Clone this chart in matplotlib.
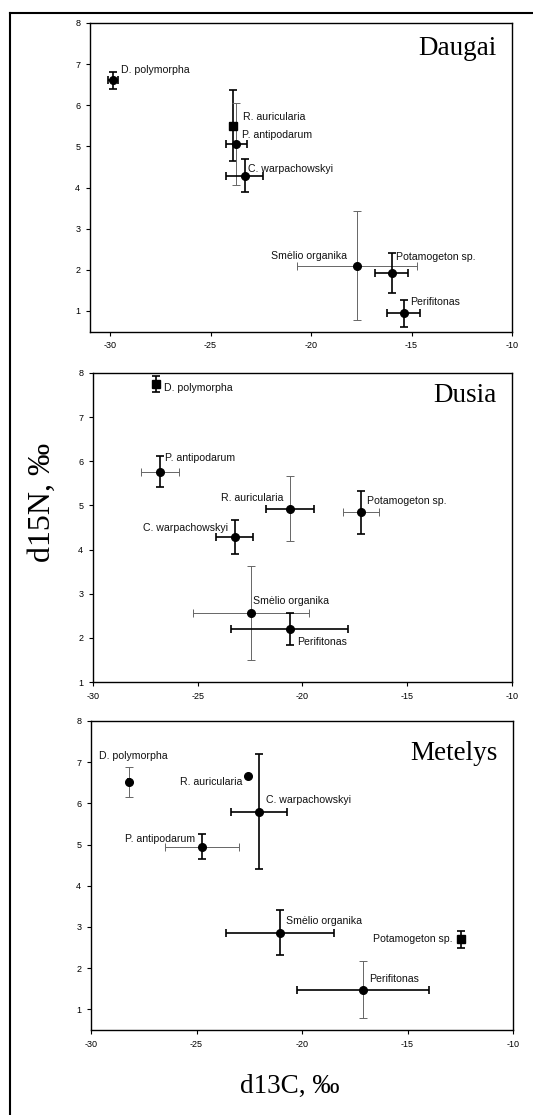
"""Stable isotope biplots (d13C vs d15N) for three lakes."""

import matplotlib
matplotlib.use("Agg")
import matplotlib.pyplot as plt
from matplotlib.lines import Line2D

plt.rcParams.update({
    "font.family": "Liberation Sans",
    "font.size": 7,
    "axes.unicode_minus": False,
    "figure.facecolor": "white",
    "axes.facecolor": "white",
})

# ---- data -------------------------------------------------------------
daugai_names = ["D. polymorpha", "R. auricularia", "P. antipodarum", "C. warpachowskyi",
                "Smėlio organika", "Potamogeton sp.", "Perifitonas"]
daugai_c = [-29.85, -23.88, -23.71, -23.3, -17.71, -15.99, -15.39]
daugai_n = [6.61, 5.5, 5.05, 4.29, 2.1, 1.93, 0.94]
daugai_cerr = [0.25, 0.15, 0.51, 0.91, 3.0, 0.83, 0.83]
daugai_nerr = [0.21, 0.86, 1.0, 0.4, 1.33, 0.49, 0.33]

dusia_names = ["D. polymorpha", "P. antipodarum", "R. auricularia", "Potamogeton sp.",
               "C. warpachowskyi", "Smėlio organika", "Perifitonas"]
dusia_c = [-26.99, -26.8, -20.6, -17.19, -23.24, -22.47, -20.6]
dusia_n = [7.75, 5.76, 4.93, 4.84, 4.28, 2.56, 2.2]
dusia_cerr = [0.1, 0.91, 1.15, 0.86, 0.89, 2.78, 2.79]
dusia_nerr = [0.18, 0.35, 0.74, 0.48, 0.39, 1.07, 0.36]

metelys_names = ["D. polymorpha", "R. auricularia", "C. warpachowskyi", "P. antipodarum",
                 "Smėlio organika", "Potamogeton sp.", "Perifitonas"]
metelys_c = [-28.18, -22.54, -22.04, -24.75, -21.04, -12.46, -17.09]
metelys_n = [6.52, 6.66, 5.8, 4.95, 2.86, 2.7, 1.48]
metelys_cerr = [0.05, 0.0, 1.34, 1.75, 2.55, 0.05, 3.13]
metelys_nerr = [0.36, 0.0, 1.4, 0.31, 0.55, 0.2, 0.7]

x_ticks = [-30, -25, -20, -15, -10]
y_ticks = [1, 2, 3, 4, 5, 6, 7, 8]

# ---- per-panel layout / styling ---------------------------------------
W, H = 533, 1115
panels = [
    {
        "title": "Daugai", "names": daugai_names, "c": daugai_c, "n": daugai_n,
        "cerr": daugai_cerr, "nerr": daugai_nerr,
        "box": (90, 23, 512, 331.5), "xlim": (-31, -10), "ylim": (0.5, 8),
        "title_y": 0.896,
        "markers": ["o", "s", "o", "o", "o", "o", "o"],
        "thin_x": [False, False, False, False, True, False, False],
        "thin_y": [False, False, True, False, True, False, False],
        "offsets": [(8, 10, "left"), (10, 9, "left"), (6, 9, "left"), (3, 7, "left"),
                    (-10, 10, "right"), (4, 16, "left"), (6, 11, "left")],
    },
    {
        "title": "Dusia", "names": dusia_names, "c": dusia_c, "n": dusia_n,
        "cerr": dusia_cerr, "nerr": dusia_nerr,
        "box": (93, 373, 512, 682), "xlim": (-30, -10), "ylim": (1, 8),
        "title_y": 0.907,
        "markers": ["s", "o", "o", "o", "o", "o", "o"],
        "thin_x": [False, True, False, True, False, True, False],
        "thin_y": [False, False, True, False, False, True, False],
        "offsets": [(8, -4, "left"), (5, 14, "left"), (-7, 11, "right"), (6, 11, "left"),
                    (-7, 9, "right"), (2, 12, "left"), (7, -13, "left")],
    },
    {
        "title": "Metelys", "names": metelys_names, "c": metelys_c, "n": metelys_n,
        "cerr": metelys_cerr, "nerr": metelys_nerr,
        "box": (91, 721, 513, 1030), "xlim": (-30, -10), "ylim": (0.5, 8),
        "title_y": 0.874,
        "markers": ["o", "o", "o", "o", "o", "s", "o"],
        "thin_x": [False, False, False, True, False, False, False],
        "thin_y": [True, False, False, False, False, False, True],
        "offsets": [(-30, 26, "left"), (-6, -6, "right"), (7, 12, "left"), (-7, 8, "right"),
                    (6, 12, "left"), (-9, 0, "right"), (6, 11, "left")],
    },
]

fig = plt.figure(figsize=(W / 100, H / 100), dpi=100)

for p in panels:
    x0, y0, x1, y1 = p["box"]
    ax = fig.add_axes([x0 / W, 1 - y1 / H, (x1 - x0) / W, (y1 - y0) / H])

    for i in range(len(p["names"])):
        cx, ny = p["c"][i], p["n"][i]
        # horizontal and vertical bars drawn separately, some are thin/grey
        if p["cerr"][i] > 0:
            thin = p["thin_x"][i]
            ax.errorbar(cx, ny, xerr=p["cerr"][i], fmt="none",
                        ecolor="#666666" if thin else "black",
                        elinewidth=0.7 if thin else 1.2, capsize=3,
                        capthick=0.7 if thin else 1.2, zorder=2)
        if p["nerr"][i] > 0:
            thin = p["thin_y"][i]
            ax.errorbar(cx, ny, yerr=p["nerr"][i], fmt="none",
                        ecolor="#666666" if thin else "black",
                        elinewidth=0.7 if thin else 1.2, capsize=3,
                        capthick=0.7 if thin else 1.2, zorder=2)
        ax.plot(cx, ny, marker=p["markers"][i], color="black", markersize=5.5,
                linestyle="none", zorder=3)
        dx, dy, ha = p["offsets"][i]
        ax.annotate(p["names"][i], (cx, ny), xytext=(dx, dy),
                    textcoords="offset pixels", ha=ha, va="center",
                    fontsize=7.6, color="#111111")

    ax.set_xlim(*p["xlim"])
    ax.set_ylim(*p["ylim"])
    ax.set_xticks(x_ticks)
    ax.set_yticks(y_ticks)
    ax.tick_params(direction="out", length=3, width=0.8, labelsize=6.5,
                   top=False, right=False, pad=4)
    for s in ax.spines.values():
        s.set_linewidth(1.0)

    ax.text(0.964, p["title_y"], p["title"], transform=ax.transAxes,
            ha="right", va="baseline", fontsize=19.5, family="Liberation Serif")

# axis titles shared across panels
fig.text(290 / W, 1 - 1093 / H, "d13C, ‰", ha="center", va="baseline",
         fontsize=19.5, family="Liberation Serif")
fig.text(42.5 / W, 1 - 502 / H, "d15N, ‰", ha="center", va="center",
         rotation=90, fontsize=23, family="Liberation Serif")

# outer frame (left and top edges visible)
fig.add_artist(Line2D([10 / W, 10 / W], [0, 1 - 13 / H], transform=fig.transFigure,
                      color="black", linewidth=1.5))
fig.add_artist(Line2D([10 / W, 1], [1 - 13 / H, 1 - 13 / H], transform=fig.transFigure,
                      color="black", linewidth=1.5))

fig.savefig("out.png", dpi=100)
plt.close(fig)
